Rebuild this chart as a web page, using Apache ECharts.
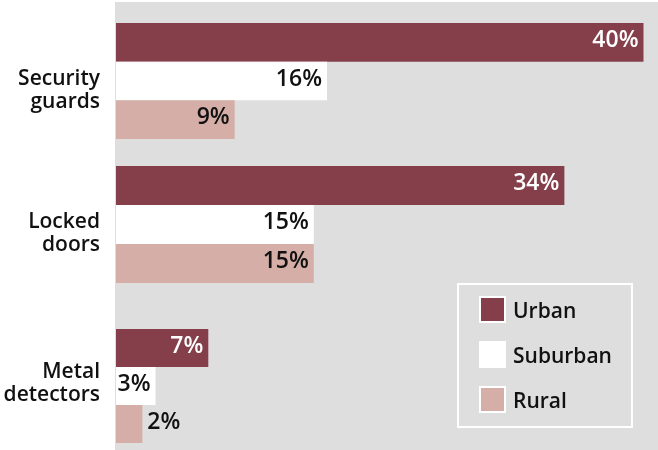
<!DOCTYPE html>
<html>
<head>
<meta charset="utf-8">
<script src="https://cdn.jsdelivr.net/npm/echarts@6/dist/echarts.min.js"></script>
<style>
  html, body { margin: 0; padding: 0; background: #ffffff; }
  #chart { width: 658px; height: 450px; }
</style>
</head>
<body>
<div id="chart"></div>
<script>
// Share of schools using each security measure, by locale (percent)
const categories = ['Security\nguards', 'Locked\ndoors', 'Metal\ndetectors'];
const seriesNames = ['Urban', 'Suburban', 'Rural'];
const urban = [40, 34, 7];
const suburban = [16, 15, 3];
const rural = [9, 15, 2];

const values = [urban, suburban, rural];
const colors = ['#843F4B', '#FFFFFF', '#D5AFA7'];
const labelColors = ['#FFFFFF', '#111111', '#111111'];
const FONT = '"Open Sans", "Noto Sans", sans-serif';

// Each measure gets its own band so the groups can sit at their own heights
const groupTops = [23, 166, 329];
const groupHeights = [116, 117, 114];
// vertical nudge of each category caption relative to its group centre
const captionShift = [10, 9, -2];
const xMax = 41.1;

const grids = [{ left: 115, right: 0, top: 2, bottom: 0, show: true, backgroundColor: '#DEDEDE', borderWidth: 0 }];
const xAxes = [{ gridIndex: 0, type: 'value', show: false }];
const yAxes = [{ gridIndex: 0, type: 'value', show: false }];
const series = [];

categories.forEach((cat, i) => {
  // bar band
  const g = grids.length;
  grids.push({ left: 116, right: 0, top: groupTops[i], height: groupHeights[i] });
  xAxes.push({ gridIndex: g, type: 'value', min: 0, max: xMax, show: false });
  yAxes.push({ gridIndex: g, type: 'category', data: [cat], inverse: true, show: false });

  // caption band, slightly offset from the bars
  const c = grids.length;
  grids.push({ left: 116, right: 0, top: groupTops[i] + captionShift[i], height: groupHeights[i] });
  xAxes.push({ gridIndex: c, type: 'value', min: 0, max: xMax, show: false });
  yAxes.push({
    gridIndex: c,
    type: 'category',
    data: [cat],
    inverse: true,
    axisLine: { show: false },
    axisTick: { show: false },
    splitLine: { show: false },
    axisLabel: {
      margin: 16,
      fontFamily: FONT,
      fontSize: 21,
      fontWeight: 600,
      lineHeight: 23,
      color: '#111111',
      align: 'right'
    }
  });

  seriesNames.forEach((name, s) => {
    const v = values[s][i];
    series.push({
      type: 'bar',
      name: name,
      xAxisIndex: g,
      yAxisIndex: g,
      data: [v],
      barGap: '0%',
      barCategoryGap: '0%',
      itemStyle: { color: colors[s] },
      label: {
        show: true,
        position: v <= 2 ? 'right' : 'insideRight',
        distance: 5,
        offset: [0, -2],
        formatter: '{c}%',
        fontFamily: FONT,
        fontSize: 23,
        fontWeight: 600,
        color: v <= 2 ? '#111111' : labelColors[s]
      }
    });
  });
});

const chart = echarts.init(document.getElementById('chart'), null, { renderer: 'canvas' });
chart.setOption({
  animation: false,
  backgroundColor: '#FFFFFF',
  color: colors,
  grid: grids,
  xAxis: xAxes,
  yAxis: yAxes,
  legend: {
    orient: 'vertical',
    left: 458,
    top: 284,
    padding: [12, 20, 14, 21],
    itemGap: 18,
    itemWidth: 25,
    itemHeight: 25,
    icon: 'rect',
    borderColor: '#FFFFFF',
    borderWidth: 2,
    data: seriesNames,
    itemStyle: { borderColor: '#FFFFFF', borderWidth: 2 },
    formatter: '{t|{name}}',
    textStyle: {
      fontFamily: FONT,
      fontSize: 21,
      fontWeight: 600,
      color: '#111111',
      rich: {
        t: {
          fontFamily: FONT,
          fontSize: 21,
          fontWeight: 600,
          color: '#111111',
          padding: [6, 0, 0, 3]
        }
      }
    }
  },
  series: series
});
</script>
</body>
</html>
